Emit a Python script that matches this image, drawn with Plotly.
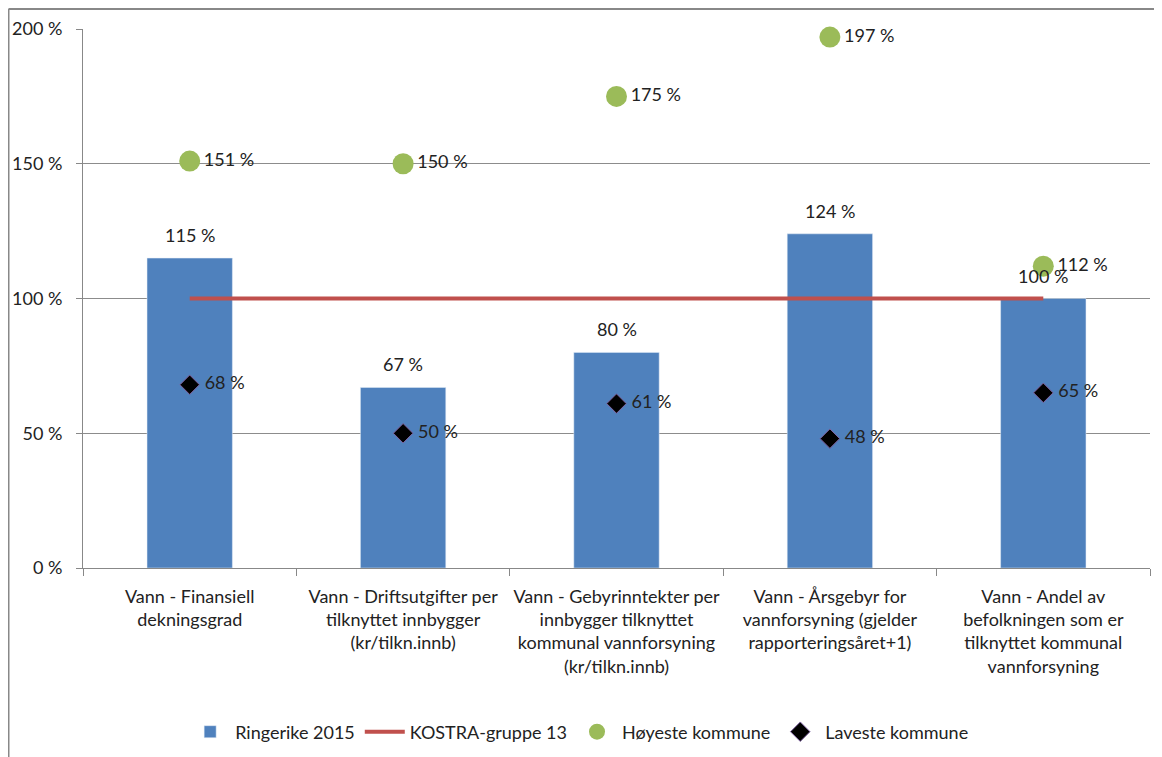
import plotly.graph_objects as go

categories = [
    "Vann - Finansiell<br>dekningsgrad",
    "Vann - Driftsutgifter per<br>tilknyttet innbygger<br>(kr/tilkn.innb)",
    "Vann - Gebyrinntekter per<br>innbygger tilknyttet<br>kommunal vannforsyning<br>(kr/tilkn.innb)",
    "Vann - Årsgebyr for<br>vannforsyning (gjelder<br>rapporteringsåret+1)",
    "Vann - Andel av<br>befolkningen som er<br>tilknyttet kommunal<br>vannforsyning",
]
ringerike = [115, 67, 80, 124, 100]
kostra = [100, 100, 100, 100, 100]
hoyeste = [151, 150, 175, 197, 112]
laveste = [68, 50, 61, 48, 65]
y_ticks = [0, 50, 100, 150, 200]

FONT = "Lato, Carlito, Calibri, sans-serif"
fs = 18

fig = go.Figure()
fig.add_trace(go.Bar(
    x=categories, y=ringerike, name="Ringerike 2015",
    marker=dict(color="#4F81BD"), width=0.4,
))
fig.add_trace(go.Scatter(
    x=categories, y=kostra, name="KOSTRA-gruppe 13", mode="lines",
    line=dict(color="#C0504D", width=4),
))
fig.add_trace(go.Scatter(
    x=categories, y=hoyeste, name="Høyeste kommune", mode="markers+text",
    marker=dict(color="#9BBB59", size=21, symbol="circle"),
    text=[f"{v} %" for v in hoyeste], textposition="middle right",
    textfont=dict(family=FONT, size=fs, color="#222"), cliponaxis=False,
))
fig.add_trace(go.Scatter(
    x=categories, y=laveste, name="Laveste kommune", mode="markers+text",
    marker=dict(color="black", size=15, symbol="diamond",
                line=dict(color="#8064A2", width=1)),
    text=[f" {v} %" for v in laveste], textposition="middle right",
    textfont=dict(family=FONT, size=fs, color="#222"), cliponaxis=False,
))

annotations = [
    dict(x=c, y=v, text=f"{v} %", showarrow=False, yanchor="bottom",
         yshift=10, font=dict(family=FONT, size=fs, color="#222"))
    for c, v in zip(categories, ringerike)
]

# page body has an 8px margin; figure is drawn at offset (8, 8)
W, H = 1154, 749
ml, mr, mt, mb = 75, 12, 21, 189
pw, ph = W - ml - mr, H - mt - mb

def px_x(x):
    return (x - ml) / pw

def px_y(y):
    return (H - mb - y) / ph

fig.update_layout(
    width=W, height=H,
    margin=dict(l=ml, r=mr, t=mt, b=mb, autoexpand=False),
    paper_bgcolor="white", plot_bgcolor="white",
    font=dict(family=FONT, size=fs, color="#222"),
    bargap=0.6,
    showlegend=True,
    annotations=annotations,
    legend=dict(orientation="h", x=0.465, xanchor="center", y=px_y(724), yanchor="middle",
                font=dict(family=FONT, size=fs), itemwidth=40, traceorder="normal"),
    xaxis=dict(
        type="category", tickson="boundaries", ticks="outside", ticklen=7,
        tickcolor="#888", showline=True, linecolor="#888", linewidth=1,
        showgrid=False, tickangle=0, ticklabelstandoff=12, automargin=False,
        tickfont=dict(family=FONT, size=fs),
    ),
    yaxis=dict(
        range=[0, 200], tickvals=y_ticks, ticktext=[f"{v} %" for v in y_ticks],
        ticks="outside", ticklen=6, tickcolor="#888",
        showline=True, linecolor="#888", linewidth=1,
        showgrid=True, gridcolor="#8c8c8c", gridwidth=1, zeroline=False,
        tickfont=dict(family=FONT, size=fs), ticklabelstandoff=10, automargin=False,
    ),
    shapes=[
        dict(type="line", xref="paper", yref="paper",
             x0=px_x(0.5), x1=px_x(0.5), y0=px_y(1), y1=px_y(H + 5),
             line=dict(color="#888", width=2)),
        dict(type="line", xref="paper", yref="paper",
             x0=px_x(0.5), x1=px_x(W + 5), y0=px_y(1), y1=px_y(1),
             line=dict(color="#888", width=2)),
    ],
)

fig.write_html("out.html")
